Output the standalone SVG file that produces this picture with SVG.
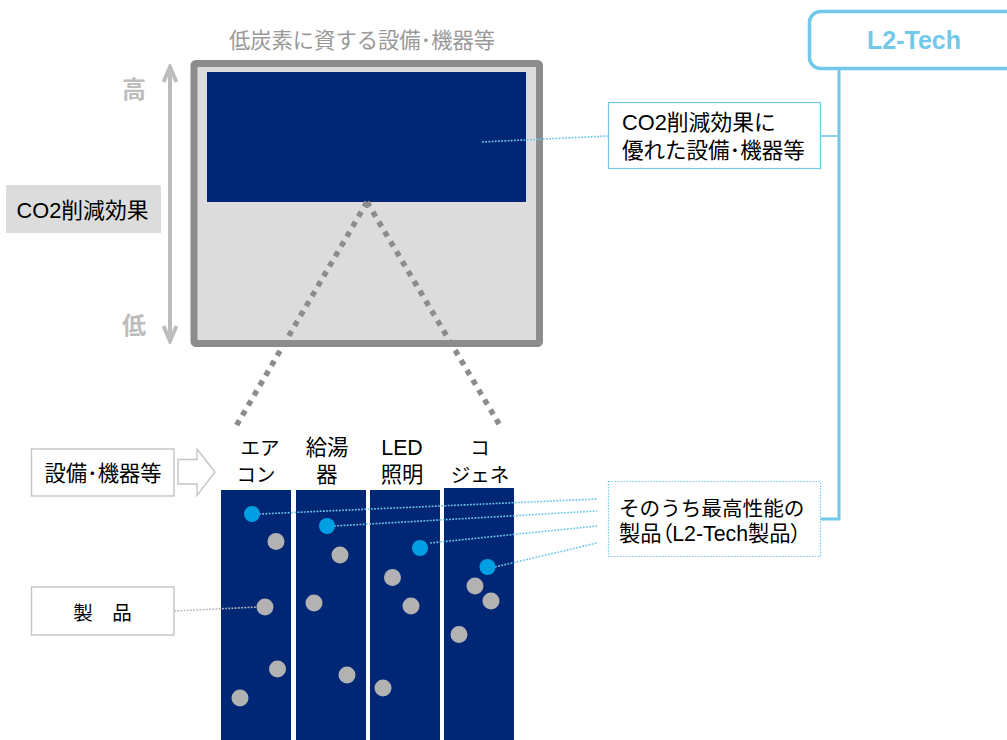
<svg xmlns="http://www.w3.org/2000/svg" width="1007" height="740" viewBox="0 0 1007 740">
<style>
text{font-family:"Liberation Sans","Noto Sans CJK JP",sans-serif;font-size:21.3px;fill:#000}
.m{text-anchor:middle}
.k{font-size:19.5px}
.col{fill:#002776}
.g{fill:#b2b2b2}
.b{fill:#009fe3}
.dot{fill:none;stroke:#6ec6e8;stroke-width:1.6;stroke-dasharray:1.8 1.4}
.thick{fill:none;stroke:#72c8ea;stroke-width:3}
.gdash{fill:none;stroke:#8c8c8c;stroke-width:5.500;stroke-dasharray:5.500 6}
.box{fill:#fff;stroke:#c4c4c4;stroke-width:1.400}
</style>
<defs>
<marker id="ah" viewBox="0 0 20 16" refX="18" refY="8" markerWidth="20" markerHeight="16" markerUnits="userSpaceOnUse" orient="auto-start-reverse"><path d="M2 1.500L17 8L2 14.500" fill="none" stroke="#bdbdbd" stroke-width="4"/></marker>
</defs>
<g id="main-box">
<rect x="194" y="63.500" width="345.500" height="280" rx="2" fill="#dcdcdc" stroke="#8c8c8c" stroke-width="7"/>
<rect x="207" y="72" width="319" height="130" class="col"/>
<text x="362" y="48" class="m" style="fill:#999">低炭素に資する設備･機器等</text>
</g>
<g id="axis">
<path d="M170 66V342" fill="none" stroke="#bdbdbd" stroke-width="4" marker-start="url(#ah)" marker-end="url(#ah)"/>
<text x="134" y="98" class="m" style="fill:#bdbdbd;font-size:24px;font-weight:bold">高</text>
<text x="134" y="334" class="m" style="fill:#bdbdbd;font-size:24px;font-weight:bold">低</text>
</g>
<g id="co2-label">
<rect x="6" y="185" width="155" height="48" fill="#dcdcdc"/>
<text x="82.500" y="218" class="m" style="font-size:21.800px">CO2削減効果</text>
</g>
<g id="columns">
<rect x="221" y="490" width="70" height="250" class="col"/>
<rect x="296" y="490" width="70" height="250" class="col"/>
<rect x="370" y="490" width="70" height="250" class="col"/>
<rect x="444" y="488" width="70" height="252" class="col"/>
</g>
<g id="connectors">
<path class="gdash" d="M367 202L235 428"/>
<path class="gdash" d="M367 202L499 424"/>
<path class="dot" d="M482 142L608 136"/>
<path class="dot" d="M259 514L597 499"/>
<path class="dot" d="M334 526L597 511"/>
<path class="dot" d="M430 543L597 526"/>
<path class="dot" d="M495 567L597 543"/>
<path d="M174 611L258 607" fill="none" stroke="#b8b8b8" stroke-width="1.600" stroke-dasharray="1.800 1.400"/>
<path class="thick" d="M839 70V519H821"/>
<path d="M821 136H839" fill="none" stroke="#72c8ea" stroke-width="1.600"/>
</g>
<g id="column-labels">
<text x="260" y="455" class="m k">エア</text><text x="256" y="482" class="m k">コン</text>
<text x="327" y="455" class="m">給湯</text><text x="327" y="482" class="m">器</text>
<text x="402" y="455" class="m">LED</text><text x="402" y="482" class="m">照明</text>
<text x="480" y="455" class="m k">コ</text><text x="480" y="482" class="m k">ジェネ</text>
</g>
<g id="equip-box">
<rect x="31.500" y="449" width="142.500" height="47" class="box"/>
<text x="103" y="481" class="m">設備･機器等</text>
<path d="M178 459.500H197V449L215 472L197 495.500V484H178Z" fill="#fff" stroke="#c4c4c4" stroke-width="1.400"/>
</g>
<g id="product-box">
<rect x="31.500" y="587" width="142.500" height="48" class="box"/>
<text x="102.500" y="620" class="m" style="font-size:19.500px">製　品</text>
</g>
<g id="products">
<circle cx="276" cy="541.500" r="8.500" class="g"/><circle cx="340" cy="555" r="8.500" class="g"/>
<circle cx="392.500" cy="577.500" r="8.500" class="g"/><circle cx="265" cy="607" r="8.500" class="g"/>
<circle cx="314" cy="603" r="8.500" class="g"/><circle cx="411" cy="606" r="8.500" class="g"/>
<circle cx="475" cy="586" r="8.500" class="g"/><circle cx="491" cy="601" r="8.500" class="g"/>
<circle cx="459" cy="634.500" r="8.500" class="g"/><circle cx="277.500" cy="669" r="8.500" class="g"/>
<circle cx="347" cy="675" r="8.500" class="g"/><circle cx="240" cy="698" r="8.500" class="g"/>
<circle cx="383" cy="688" r="8.500" class="g"/>
<circle cx="252" cy="514" r="8" class="b"/><circle cx="327" cy="526" r="8" class="b"/>
<circle cx="420" cy="548" r="8" class="b"/><circle cx="487.500" cy="567" r="8" class="b"/>
</g>
<g id="l2-tech">
<rect x="809.500" y="11.500" width="240" height="57" rx="11" fill="#fff" stroke="#72c8ea" stroke-width="3.500"/>
<text x="914" y="49" class="m" style="font-size:25px;font-weight:bold;fill:#72c8ea">L2-Tech</text>
</g>
<g id="co2-box">
<rect x="608.500" y="102.500" width="212" height="66" fill="#fff" stroke="#72c8ea" stroke-width="1.200"/>
<text x="622" y="130" style="font-size:21.800px">CO2削減効果に</text>
<text x="622" y="158" style="font-size:21.500px">優れた設備･機器等</text>
</g>
<g id="l2-products-box">
<rect x="608.500" y="481.500" width="212" height="75" fill="#fff" stroke="#72c8ea" stroke-width="1.200" stroke-dasharray="1.500 1.500"/>
<text x="619" y="516" style="font-size:20.600px">そのうち最高性能の</text>
<text x="619" y="541" style="font-feature-settings:'palt'">製品（L2-Tech製品）</text>
</g>
</svg>
